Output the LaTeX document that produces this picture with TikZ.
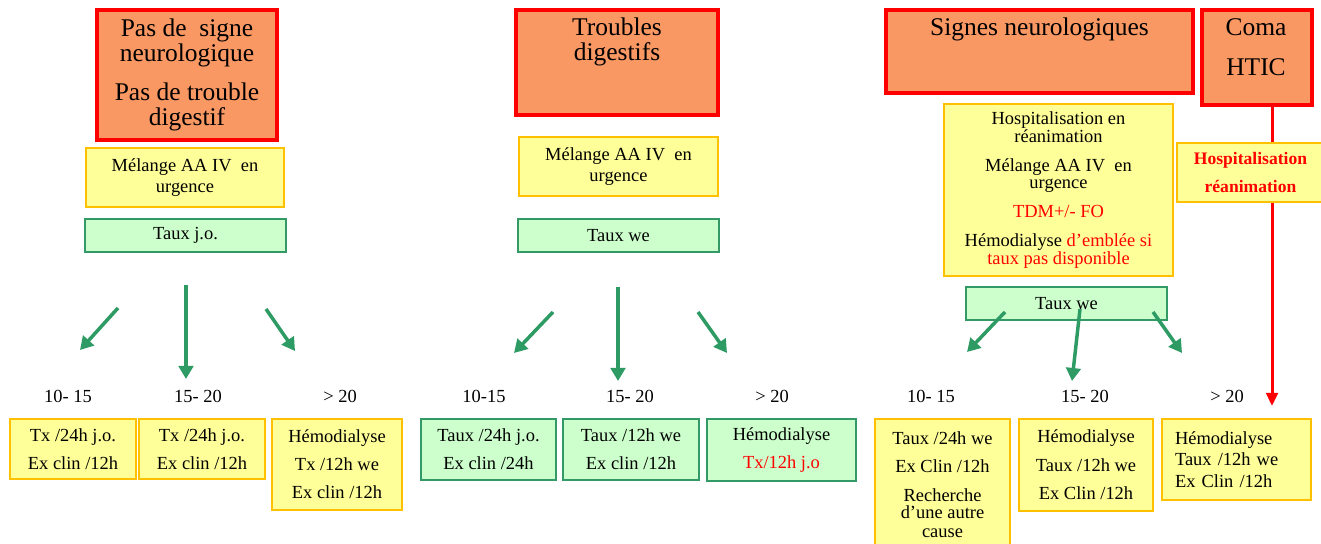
\documentclass[tikz,border=0pt]{standalone}
\usepackage{fontspec}
\setmainfont{Liberation Serif}
\usepackage{tikz}
\usetikzlibrary{arrows.meta,backgrounds}
\definecolor{boxorange}{RGB}{250,152,100}
\definecolor{boxgold}{RGB}{255,192,0}
\definecolor{boxyellow}{RGB}{255,255,153}
\definecolor{boxgreen}{RGB}{51,153,102}
\definecolor{boxmint}{RGB}{204,255,204}
\definecolor{arrowgreen}{RGB}{46,155,100}
\newcommand{\arrowcolor}{arrowgreen}
\newcommand{\px}{0.2mm}

\begin{document}
\begin{tikzpicture}[x=\px, y=-\px,
  rbox/.style={draw=red, line width=0.7mm, fill=boxorange, inner sep=0},
  ybox/.style={draw=boxgold, line width=0.45mm, fill=boxyellow, inner sep=0, align=center, font=\fontsize{10.5}{15.9}\selectfont},
  gbox/.style={draw=boxgreen, line width=0.45mm, fill=boxmint, inner sep=0, align=center, font=\fontsize{10.5}{15.9}\selectfont},
  big/.style={anchor=north, inner sep=0, align=center, font=\fontsize{14.5}{14.2}\selectfont},
  lbl/.style={anchor=base, inner sep=0, font=\fontsize{10.5}{12}\selectfont},
  garrow/.style={draw=\arrowcolor, line width=0.7mm, -{Triangle[length=2.6mm, width=2.9mm]}},
  rarrow/.style={draw=red, line width=0.6mm, -{Triangle[length=2.6mm, width=2.3mm]}}]
\useasboundingbox (0,0) rectangle (1321,544);
%left
\node[rbox, minimum width=180*\px, minimum height=130*\px] (sans) at (187, 75) {};
\node[big] (sanstxt) at (187, 18.5) {Pas de~ signe\\neurologique\\[7.9pt]Pas de trouble\\digestif};
\node[ybox, minimum width=198*\px, minimum height=59*\px, font=\fontsize{10.5}{11.9}\selectfont] (aa1) at (185, 177.5) {Mélange AA IV~ en\\urgence};
\node[gbox, minimum width=201*\px, minimum height=33*\px] (taux1) at (185.5, 235.5) {Taux j.o.};
%middle
\node[rbox, minimum width=202*\px, minimum height=105*\px] (dig) at (617, 62.5) {};
\node[big] (digtxt) at (617, 17.5) {Troubles\\digestifs};
\node[ybox, minimum width=199*\px, minimum height=59*\px, font=\fontsize{10.5}{11.9}\selectfont] (aa2) at (618.5, 166.5) {Mélange AA IV~ en\\urgence};
\node[gbox, minimum width=201*\px, minimum height=33*\px] (taux2) at (618.5, 235.5) {Taux we};
%right
\node[rbox, minimum width=307*\px, minimum height=83*\px] (neuro) at (1039.5, 51.5) {};
\node[big] (neurotxt) at (1039.5, 17.5) {Signes neurologiques};
\node[ybox, minimum width=229*\px, minimum height=172*\px, font=\fontsize{10.5}{10.2}\selectfont] (rea) at (1058.5, 190)
  {Hospitalisation en\\réanimation\\[6.2pt]Mélange AA IV~ en\\urgence\\[6.2pt]\textcolor{red}{TDM+/- FO}\\[6.2pt]Hémodialyse \textcolor{red}{d’emblée si}\\\textcolor{red}{taux pas disponible}};
\node[gbox, minimum width=201*\px, minimum height=33*\px] (taux3) at (1066.5, 303.5) {Taux we};
%coma
\node[rbox, minimum width=110*\px, minimum height=95*\px] (coma) at (1257, 57.5) {};
\node[big, font=\fontsize{14.5}{22.7}\selectfont] (comatxt) at (1256, 18.5) {Coma\\HTIC};
\coordinate (redend) at (1272, 406);
\draw[rarrow] (coma.south -| redend) -- (redend);
\node[ybox, minimum width=147*\px, minimum height=59*\px, text=red, font=\fontsize{10}{15.9}\selectfont\bfseries] (hosp) at (1250.5, 172.5) {Hospitalisation\\réanimation};

%arrows
\coordinate (a1) at (118, 308); \coordinate (b1) at (80, 350);
\coordinate (a2) at (186, 285); \coordinate (b2) at (186, 379);
\coordinate (a3) at (266, 309); \coordinate (b3) at (295, 351);
\coordinate (a4) at (553, 312); \coordinate (b4) at (514, 353);
\coordinate (a5) at (618, 287); \coordinate (b5) at (618, 381);
\coordinate (a6) at (698, 312); \coordinate (b6) at (727, 353);
\coordinate (a7) at (1005, 312); \coordinate (b7) at (967, 352);
\coordinate (a8) at (1080, 309); \coordinate (b8) at (1072, 381);
\coordinate (a9) at (1153, 312); \coordinate (b9) at (1182, 353);
\draw[garrow] (a1) -- (b1);
\draw[garrow] (a2) -- (b2);
\draw[garrow] (a3) -- (b3);
\draw[garrow] (a4) -- (b4);
\draw[garrow] (a5) -- (b5);
\draw[garrow] (a6) -- (b6);
\draw[garrow] (a7) -- (b7);
\draw[garrow] (a8) -- (b8);
\draw[garrow] (a9) -- (b9);

%levels
\node[lbl] (l1) at (68, 403) {10- 15};
\node[lbl] (l2) at (198, 403) {15- 20};
\node[lbl] (l3) at (340, 403) {> 20};
\node[lbl] (l4) at (484, 403) {10-15};
\node[lbl] (l5) at (630, 403) {15- 20};
\node[lbl] (l6) at (772, 403) {> 20};
\node[lbl] (l7) at (931, 403) {10- 15};
\node[lbl] (l8) at (1085, 403) {15- 20};
\node[lbl] (l9) at (1227, 403) {> 20};

%bottom
\node[ybox, minimum width=126*\px, minimum height=60*\px] (r1) at (73, 449) {Tx /24h j.o.\\Ex clin /12h};
\node[ybox, minimum width=126*\px, minimum height=60*\px] (r2) at (202, 449) {Tx /24h j.o.\\Ex clin /12h};
\node[ybox, minimum width=130*\px, minimum height=91*\px] (r3) at (337, 464.5) {Hémodialyse\\Tx /12h we\\Ex clin /12h};
\node[gbox, minimum width=135*\px, minimum height=61*\px] (r4) at (488.5, 449.5) {Taux /24h j.o.\\Ex clin /24h};
\node[gbox, minimum width=136*\px, minimum height=61*\px] (r5) at (631, 449.5) {Taux /12h we\\Ex clin /12h};
\node[gbox, minimum width=149*\px, minimum height=62*\px] (r6) at (781.5, 450) {Hémodialyse\\\textcolor{red}{Tx/12h j.o}};
\node[ybox, minimum width=135*\px, minimum height=131*\px, font=\fontsize{10.5}{9.6}\selectfont] (r7) at (942.5, 484.5)
  {Taux /24h we\\[6.8pt]Ex Clin /12h\\[6.8pt]Recherche\\d’une autre\\[1.2pt]cause};
\node[ybox, minimum width=134*\px, minimum height=92*\px, font=\fontsize{10.5}{16.2}\selectfont] (r8) at (1086, 465) {Hémodialyse\\Taux /12h we\\Ex Clin /12h};
\node[ybox, minimum height=81*\px, text width=123*\px, inner xsep=13*\px, align=left, font=\fontsize{10.5}{12.2}\selectfont] (r9) at (1236.5, 459.5) {Hémodialyse\\Taux /12h we\\Ex Clin /12h};
\end{tikzpicture}
\end{document}
